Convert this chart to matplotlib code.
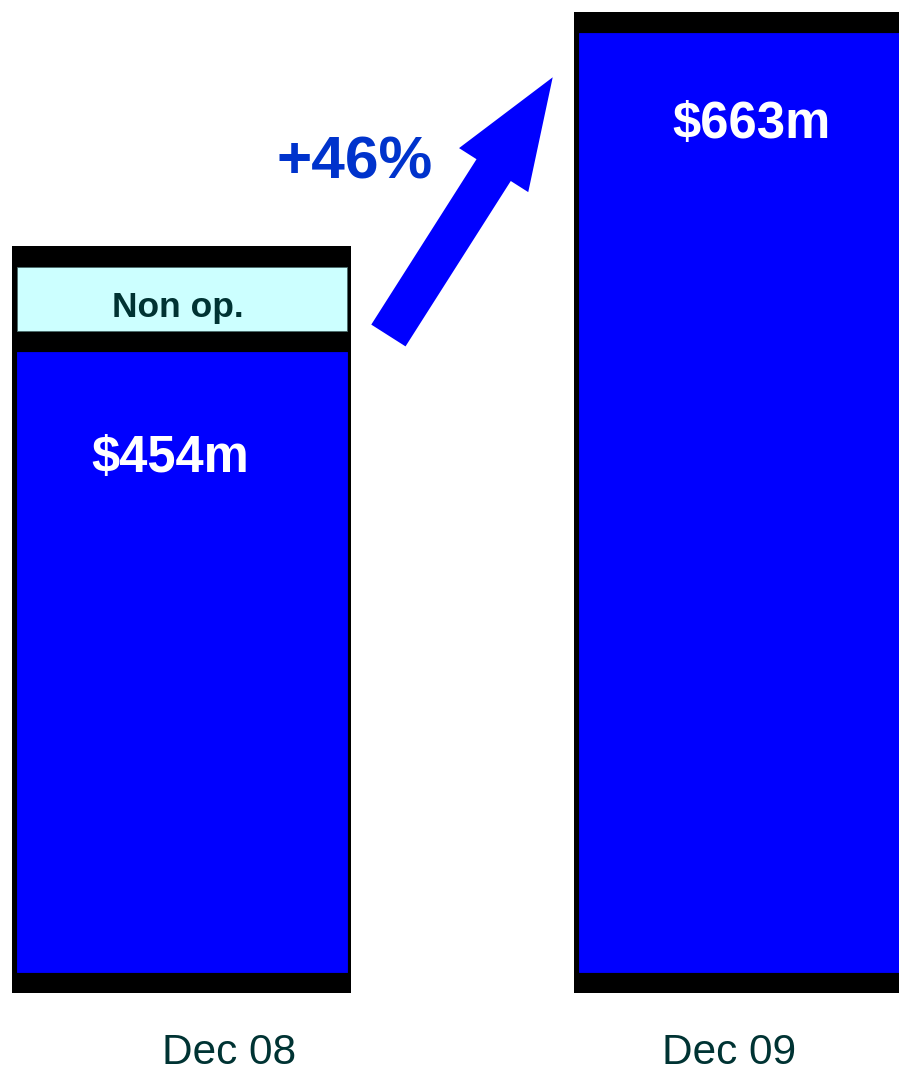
import matplotlib
matplotlib.use("Agg")
import matplotlib.pyplot as plt
import matplotlib.patches as mpatches

plt.rcParams['font.family'] = ['Liberation Sans', 'DejaVu Sans']

# data ($m, bar heights as drawn)
periods = ["Dec 08", "Dec 09"]
operating = [440, 663]
non_operating = [65, 0]
value_labels = ["$454m", "$663m"]
growth_label = "+46%"

# colours
BLUE = "#0000ff"
CYAN = "#ccffff"
TEAL = "#003333"
ARROW_TEXT = "#0033cc"

W, H, DPI = 899, 1068, 100
fig = plt.figure(figsize=(W / DPI, H / DPI), dpi=DPI)
ax = fig.add_axes([0, 0, 1, 1])

# pixel -> data helpers (baseline at px 993, 663 at px 12)
u = 663 / 981.0
def ypx(py):
    return (993 - py) * u

x_centers_px = [181.5, 743.5]
step = x_centers_px[1] - x_centers_px[0]
def xpx(px):
    return (px - x_centers_px[0]) / step

ax.set_xlim(xpx(0), xpx(W))
ax.set_ylim(ypx(H), ypx(0))
ax.axis("off")

width = 339 / step
band = 21 * u
side = 4.5 / step

x = list(range(len(periods)))
totals = [o + n for o, n in zip(operating, non_operating)]

# black frame
ax.bar(x, totals, width=width, color="black", linewidth=0)

# inner segments
for i in x:
    segs = [(0, operating[i], BLUE)]
    if non_operating[i] > 0:
        segs.append((operating[i], operating[i] + non_operating[i], CYAN))
    for k, (b, t, c) in enumerate(segs):
        lo = b + (band if k == 0 else band / 2)
        hi = t - (band if k == len(segs) - 1 else band / 2)
        ax.bar(i, hi - lo, bottom=lo, width=width - 2 * side, color=c,
               edgecolor="#4a6a6a" if c == CYAN else c, linewidth=0.6)

# labels inside bars
ax.text(xpx(170), ypx(471.7), value_labels[0], color="white", fontsize=36.5,
        fontweight="bold", ha="center", va="baseline")
ax.text(xpx(751.7), ypx(138.3), value_labels[1], color="white", fontsize=36.5,
        fontweight="bold", ha="center", va="baseline")
ax.text(xpx(178), ypx(317), "Non op.", color=TEAL, fontsize=25.5,
        fontweight="bold", ha="center", va="baseline")

# category labels
for px, lab in zip([229, 729], periods):
    ax.text(xpx(px), ypx(1064), lab, color=TEAL, fontsize=30.5,
            ha="center", va="baseline")

# growth arrow (figure inches)
tail = (388.4 / DPI, (H - 335.5) / DPI)
tip = (552.7 / DPI, (H - 77.3) / DPI)
arrow = mpatches.FancyArrow(tail[0], tail[1], tip[0] - tail[0], tip[1] - tail[1],
                            width=0.406, head_width=0.82, head_length=1.10,
                            length_includes_head=True, color=BLUE, linewidth=0,
                            transform=fig.dpi_scale_trans)
ax.add_patch(arrow)
ax.text(xpx(354.5), ypx(178.3), growth_label, color=ARROW_TEXT, fontsize=43.5,
        fontweight="bold", ha="center", va="baseline")

fig.savefig("out.png", dpi=DPI)
